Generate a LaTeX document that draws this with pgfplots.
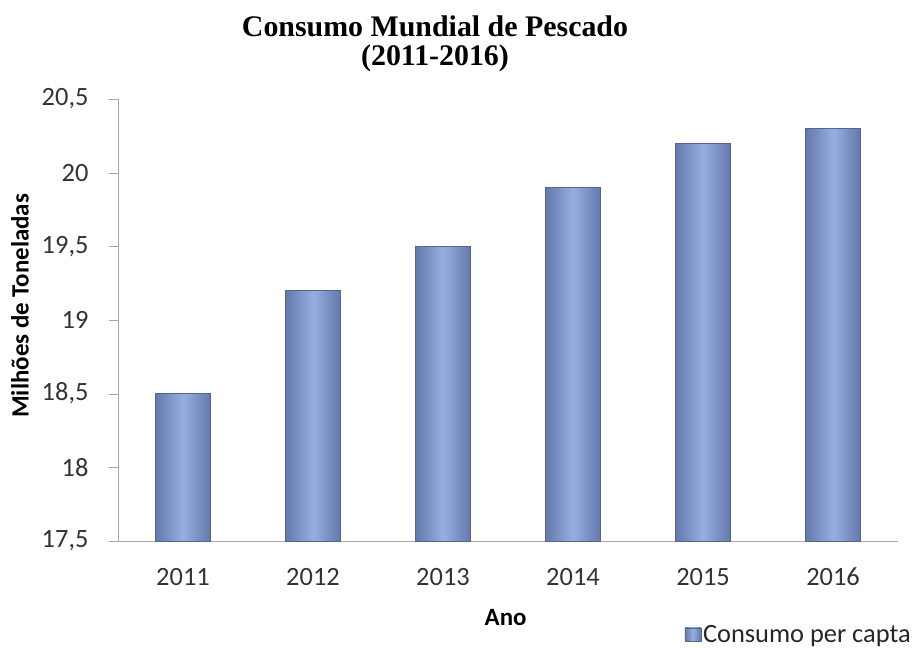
\documentclass[border=0pt]{standalone}
\usepackage{pgfplots}
\pgfplotsset{compat=1.18}
\usepackage{fontspec}
\setmainfont{Carlito}
\newfontfamily\titlefont{Liberation Serif}
\definecolor{barmid}{RGB}{150,175,225}
\definecolor{baredge}{RGB}{100,120,172}
\definecolor{barline}{RGB}{85,100,145}
\pgfplotsset{barstyle/.style={ybar, bar width=55bp, bar shift=0pt, draw=barline, line width=0.5pt,
  left color=baredge, right color=baredge, middle color=barmid}}
\begin{document}
\begin{tikzpicture}[x=1bp,y=1bp]
\useasboundingbox (0,0) rectangle (918,648);
\node[font=\titlefont\fontsize{30}{30}\selectfont\bfseries, anchor=base, inner sep=0pt] at (435,611) {Consumo Mundial de Pescado};
\node[font=\titlefont\fontsize{30}{30}\selectfont\bfseries, anchor=base, inner sep=0pt] at (435,582) {(2011-2016)};
\begin{axis}[
  at={(118bp,107bp)}, anchor=south west,
  scale only axis, width=780bp, height=442bp,
  ymin=17.5, ymax=20.5,
  ytick={17.5,18,18.5,19,19.5,20,20.5},
  xmin=-0.5, xmax=5.5,
  xtick={0,1,2,3,4,5},
  xticklabels={2011,2012,2013,2014,2015,2016},
  extra x ticks={-0.5,0.5,1.5,2.5,3.5,4.5,5.5},
  extra x tick labels={},
  extra x tick style={major tick length=8bp, tick style={draw=gray!70}},
  axis x line*=bottom, axis y line*=left,
  axis line style={gray!70},
  x tick style={draw=none},
  y tick style={draw=gray!70},
  tick align=outside, major tick length=9bp,
  /pgf/number format/assume math mode=true,
  /pgf/number format/use comma,
  /pgf/number format/fixed,
  /pgf/number format/precision=1,
  ticklabel style={font=\fontsize{26.5}{28}\selectfont, text=black!80},
  xticklabel style={anchor=base, yshift=-36bp},
  yticklabel style={xshift=-17bp},
  xlabel={\bfseries Ano}, ylabel={\bfseries Milhões de Toneladas},
  label style={font=\fontsize{25}{27}\selectfont},
  xlabel style={at={(axis description cs:0.497,-0.172)}, anchor=center},
  ylabel style={at={(axis description cs:-0.1256,0.532)}, anchor=center, rotate=0},
  legend style={at={(1.0192,-0.211)}, anchor=east, draw=none, fill=none, font=\fontsize{26.5}{28}\selectfont, legend cell align=left, inner sep=0pt, text=black!85},
  legend image code/.code={\path[left color=baredge, right color=baredge, middle color=barmid, draw=barline] (0bp,-6.5bp) rectangle (16bp,6.5bp);},
  clip=false,
]
\addplot[barstyle] coordinates {(0,18.5)};
\addlegendentry{Consumo per capta}
\addplot[barstyle, forget plot] coordinates {(1,19.2)};
\addplot[barstyle, forget plot] coordinates {(2,19.5)};
\addplot[barstyle, forget plot] coordinates {(3,19.9)};
\addplot[barstyle, forget plot] coordinates {(4,20.2)};
\addplot[barstyle, forget plot] coordinates {(5,20.3)};
\end{axis}
\end{tikzpicture}
\end{document}
